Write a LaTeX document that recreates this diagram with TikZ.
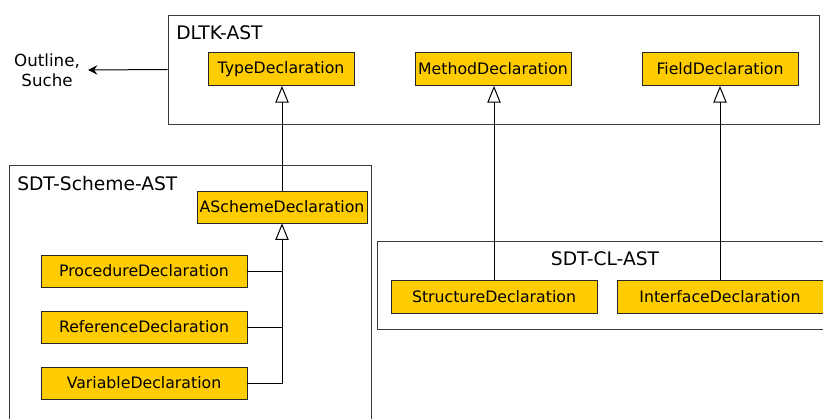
\documentclass[tikz,border=0pt]{standalone}
\usepackage{fontspec}
\setmainfont{DejaVu Sans}
\usepackage{tikz}
\usetikzlibrary{positioning,arrows.meta,shapes}
\definecolor{declfill}{HTML}{FFCC00}
\definecolor{pkgline}{HTML}{3A3A3A}

\begin{document}
\begin{tikzpicture}[x=0.75pt,y=-0.75pt,node distance=42pt]
      \tikzstyle{decl}=[rectangle,draw=black!85,fill=declfill,inner sep=0pt,minimum height=25pt,font=\fontsize{11.8}{14}\selectfont]
      \tikzstyle{pkg}=[rectangle,draw=pkgline,line width=.75pt,inner sep=0pt]
      \tikzstyle{pkgname}=[inner sep=0pt,font=\fontsize{14}{17}\selectfont]
      \tikzstyle{gen}=[-{Triangle[open,length=12.5pt,width=10pt]},line width=.75pt]
      \path[use as bounding box] (0,0) rectangle (823,418);
      \clip (0,0) rectangle (823,418);

      % packages
      \node[pkg] (dltk) at (493.5,69.5) [minimum width=488.25pt, minimum height=81.75pt] {};
      \node[pkg] (scheme) at (190,302.5) [minimum width=271.5pt, minimum height=206.25pt] {};
      \node[pkg] (cl) at (608.5,285) [minimum width=347.25pt, minimum height=66pt] {};
      \node[pkgname] (dltkname) [anchor=base west] at (176,39) {DLTK-AST};
      \node[pkgname] (schemename) [anchor=base west] at (17,190) {SDT-Scheme-AST};
      \node[pkgname] (clname) [anchor=base] at (605,265) {SDT-CL-AST};

      % DLTK-AST
      \node[decl] (type) at (281,69) [minimum width=109.5pt] {TypeDeclaration};
      \node[decl] (method) at (493,69) [minimum width=117pt] {MethodDeclaration};
      \node[decl] (field) at (720,69) [minimum width=117pt] {FieldDeclaration};
      \node (outline) at (47,70) [align=center, inner xsep=6pt, font=\fontsize{12.5}{15}\selectfont] {Outline,\\Suche};

      % SDT-Scheme-AST
      \node[decl] (ascheme) at (282,207) [minimum width=127.5pt, minimum height=24pt] {ASchemeDeclaration};
      \node[decl] (proc) at (144,271) [minimum width=154.5pt, minimum height=24pt] {ProcedureDeclaration};
      \node[decl] (ref) [below of=proc, minimum width=154.5pt, minimum height=24pt] {ReferenceDeclaration};
      \node[decl] (var) [below of=ref, minimum width=154.5pt, minimum height=24pt] {VariableDeclaration};

      % SDT-CL-AST
      \node[decl] (struct) at (494,296.5) [minimum width=154.5pt] {StructureDeclaration};
      \node[decl] (iface) at (720,296.5) [minimum width=154.5pt] {InterfaceDeclaration};

      \draw[-{Stealth[length=7pt,width=7pt,inset=2.5pt]},line width=.75pt] (dltk.west) -- (outline.east);
      \draw[gen] (ascheme.north) -- (ascheme.north |- type.south);
      \draw[gen] (struct.north) -- (struct.north |- method.south);
      \draw[gen] (iface.north) -- (iface.north |- field.south);
      \draw[gen] (var.east) -| (ascheme.south);
      \draw[line width=.75pt] (proc.east) -- (proc.east -| ascheme.south);
      \draw[line width=.75pt] (ref.east) -- (ref.east -| ascheme.south);
    \end{tikzpicture}
\end{document}
